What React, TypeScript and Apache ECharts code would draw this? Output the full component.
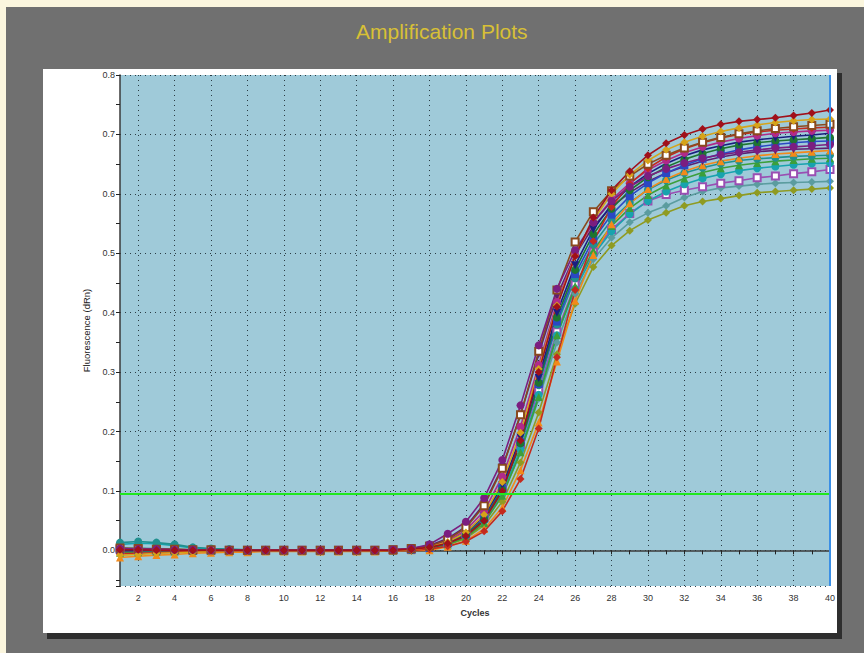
import React, { useEffect, useRef } from 'react';
import * as echarts from 'echarts';

const cycles = ['1','2','3','4','5','6','7','8','9','10','11','12','13','14','15','16','17','18','19','20','21','22','23','24','25','26','27','28','29','30','31','32','33','34','35','36','37','38','39','40'];
const threshold = 0.095;
const yMin = -0.06;
const yMax = 0.8;
const minorTickValues = [-0.05, 0.05, 0.15, 0.25, 0.35, 0.45, 0.55, 0.65, 0.75];

// Fluorescence (dRn) per cycle, one list per well
const oliveDiamond = [0.001,0.001,0.000,0.000,0.000,0.000,0.000,0.000,0.000,-0.001,0.000,0.000,0.000,0.000,0.000,0.000,0.001,0.003,0.009,0.020,0.042,0.082,0.148,0.232,0.330,0.415,0.477,0.513,0.538,0.556,0.568,0.580,0.587,0.592,0.597,0.602,0.604,0.606,0.608,0.610];
const grayTealDiamond = [0.004,0.004,0.003,0.002,0.001,0.001,0.000,0.000,0.000,0.000,0.000,0.000,0.000,0.000,0.000,0.001,0.002,0.004,0.011,0.024,0.048,0.094,0.165,0.255,0.350,0.432,0.490,0.526,0.552,0.568,0.580,0.594,0.604,0.610,0.613,0.616,0.618,0.619,0.620,0.621];
const lilacSquare = [0.002,0.002,0.001,0.001,0.000,0.000,0.000,0.000,0.000,0.000,0.000,0.000,0.000,0.000,0.000,0.001,0.002,0.005,0.013,0.028,0.055,0.104,0.178,0.270,0.368,0.447,0.502,0.540,0.567,0.588,0.599,0.606,0.612,0.618,0.622,0.627,0.630,0.634,0.637,0.641];
const cyanCircle = [0.010,0.012,0.011,0.008,0.004,0.002,0.001,0.001,0.000,0.000,0.000,0.000,0.000,0.000,0.000,0.001,0.002,0.004,0.011,0.025,0.050,0.097,0.170,0.262,0.362,0.440,0.497,0.537,0.566,0.588,0.604,0.616,0.626,0.633,0.639,0.643,0.646,0.649,0.651,0.652];
const greenTri = [-0.004,-0.003,-0.002,-0.002,-0.001,-0.001,-0.001,-0.001,-0.001,-0.001,-0.001,-0.001,-0.001,-0.001,-0.001,0.000,0.001,0.003,0.010,0.022,0.046,0.092,0.165,0.258,0.362,0.445,0.505,0.546,0.576,0.598,0.614,0.626,0.636,0.643,0.648,0.652,0.655,0.657,0.659,0.660];
const tealCircle = [0.013,0.015,0.013,0.010,0.005,0.003,0.002,0.001,0.001,0.000,0.000,0.000,0.000,0.000,0.000,0.001,0.002,0.006,0.014,0.030,0.058,0.108,0.182,0.278,0.380,0.458,0.515,0.556,0.585,0.607,0.623,0.635,0.644,0.651,0.656,0.659,0.661,0.663,0.664,0.665];
const orangeTri = [-0.012,-0.010,-0.008,-0.007,-0.005,-0.004,-0.003,-0.003,-0.002,-0.002,-0.002,-0.002,-0.002,-0.002,-0.002,-0.001,0.000,0.000,0.006,0.016,0.036,0.072,0.135,0.215,0.318,0.420,0.497,0.549,0.584,0.608,0.625,0.638,0.648,0.655,0.660,0.664,0.667,0.669,0.671,0.673];
const plumTri = [0.003,0.002,0.002,0.001,0.001,0.000,0.000,0.000,0.000,0.000,0.000,0.000,0.000,0.000,0.000,0.001,0.003,0.008,0.020,0.040,0.078,0.140,0.228,0.330,0.428,0.497,0.545,0.578,0.602,0.621,0.635,0.646,0.655,0.662,0.667,0.671,0.673,0.675,0.676,0.677];
const blueSquare = [0.000,0.000,0.000,0.000,0.000,0.000,0.000,-0.001,0.000,0.000,0.000,0.000,0.000,0.000,0.000,0.000,0.001,0.004,0.012,0.027,0.054,0.104,0.182,0.280,0.385,0.465,0.523,0.565,0.596,0.618,0.635,0.648,0.659,0.667,0.674,0.679,0.683,0.686,0.688,0.689];
const greenCircle = [0.001,0.001,0.001,0.000,0.000,0.000,0.000,0.000,0.000,0.000,0.000,0.000,0.000,0.000,0.000,0.000,0.001,0.004,0.012,0.026,0.052,0.102,0.180,0.282,0.392,0.472,0.532,0.575,0.606,0.628,0.645,0.658,0.668,0.676,0.682,0.686,0.689,0.691,0.693,0.695];
const navyTri = [0.000,0.000,0.000,0.000,0.000,0.000,0.000,0.000,0.000,0.000,0.000,0.000,0.000,0.000,0.000,0.000,0.002,0.006,0.015,0.030,0.058,0.110,0.190,0.290,0.400,0.480,0.540,0.582,0.612,0.634,0.651,0.664,0.674,0.681,0.687,0.691,0.694,0.697,0.699,0.702];
const magentaCircle = [0.002,0.002,0.001,0.001,0.000,0.000,0.000,0.000,0.000,0.000,0.000,0.000,0.000,0.000,0.000,0.001,0.002,0.006,0.016,0.034,0.066,0.124,0.208,0.312,0.418,0.498,0.552,0.590,0.618,0.640,0.656,0.669,0.679,0.687,0.693,0.698,0.702,0.704,0.706,0.707];
const darkRedDiamond = [-0.006,-0.005,-0.004,-0.003,-0.002,-0.002,-0.001,-0.001,-0.001,-0.001,-0.001,-0.001,-0.001,-0.001,-0.001,0.000,0.000,0.002,0.007,0.015,0.032,0.066,0.120,0.205,0.325,0.438,0.520,0.578,0.617,0.643,0.662,0.676,0.686,0.694,0.700,0.704,0.707,0.709,0.711,0.712];
const brownSquare = [0.004,0.003,0.002,0.002,0.001,0.001,0.000,0.000,0.000,0.000,0.000,0.000,0.000,0.000,0.000,0.001,0.003,0.007,0.018,0.038,0.075,0.138,0.228,0.335,0.438,0.519,0.570,0.605,0.630,0.650,0.665,0.677,0.687,0.695,0.701,0.706,0.710,0.713,0.715,0.717];
const goldDiamond = [-0.008,-0.007,-0.005,-0.004,-0.003,-0.002,-0.002,-0.001,-0.001,-0.001,-0.001,-0.001,-0.001,-0.001,-0.001,0.000,0.001,0.005,0.014,0.030,0.060,0.115,0.198,0.305,0.412,0.496,0.556,0.600,0.632,0.656,0.674,0.687,0.697,0.705,0.711,0.716,0.720,0.723,0.725,0.726];
const purpleLead = [0.003,0.002,0.002,0.001,0.001,0.000,0.000,0.000,0.000,0.000,0.000,0.000,0.000,0.000,0.000,0.001,0.003,0.010,0.028,0.048,0.088,0.152,0.244,0.345,0.440,0.505,0.552,0.588,0.612,0.630,0.642,0.652,0.660,0.666,0.670,0.674,0.677,0.679,0.681,0.683];
const redDiamond = [0.001,0.001,0.000,0.000,0.000,0.000,0.000,0.000,0.000,0.000,0.000,0.000,0.000,0.000,0.000,0.000,0.002,0.005,0.012,0.024,0.050,0.100,0.185,0.300,0.410,0.495,0.560,0.606,0.638,0.665,0.685,0.699,0.709,0.717,0.722,0.725,0.728,0.732,0.736,0.741];

const wells = [
  { name: 'A1', data: oliveDiamond, color: '#8f9b22', symbol: 'diamond', rotate: 0 },
  { name: 'A2', data: grayTealDiamond, color: '#5b9c9f', symbol: 'diamond', rotate: 0 },
  { name: 'A3', data: lilacSquare, color: '#9a4fb3', symbol: 'emptyRect', rotate: 0 },
  { name: 'A4', data: cyanCircle, color: '#18a3ae', symbol: 'circle', rotate: 0 },
  { name: 'A5', data: greenTri, color: '#3b9f3b', symbol: 'triangle', rotate: 0 },
  { name: 'A6', data: tealCircle, color: '#21908f', symbol: 'circle', rotate: 0 },
  { name: 'A7', data: orangeTri, color: '#f28a1a', symbol: 'triangle', rotate: 0 },
  { name: 'A8', data: plumTri, color: '#5c1f70', symbol: 'triangle', rotate: 180 },
  { name: 'A9', data: blueSquare, color: '#2a48c4', symbol: 'rect', rotate: 0 },
  { name: 'A10', data: greenCircle, color: '#1e7530', symbol: 'circle', rotate: 0 },
  { name: 'A11', data: navyTri, color: '#1a1f80', symbol: 'triangle', rotate: 180 },
  { name: 'A12', data: magentaCircle, color: '#b02a8a', symbol: 'circle', rotate: 0 },
  { name: 'A13', data: darkRedDiamond, color: '#c42a1e', symbol: 'diamond', rotate: 0 },
  { name: 'A14', data: brownSquare, color: '#8a4a1e', symbol: 'emptyRect', rotate: 0 },
  { name: 'A15', data: goldDiamond, color: '#d6a319', symbol: 'diamond', rotate: 0 },
  { name: 'A16', data: purpleLead, color: '#7b1e80', symbol: 'circle', rotate: 0 },
  { name: 'A17', data: redDiamond, color: '#a0101a', symbol: 'diamond', rotate: 0 },
];

const evenCycle = (index: number) => index % 2 === 1;

export default function App() {
  const ref = useRef<HTMLDivElement>(null);
  useEffect(() => {
    if (!ref.current) return;
    const chart = echarts.init(ref.current, null, { renderer: 'svg' });
    const series: any[] = wells.map((w, i) => ({
      name: w.name,
      type: 'line',
      data: w.data,
      symbol: w.symbol,
      symbolRotate: w.rotate,
      symbolSize: w.symbol === 'emptyRect' ? 7 : 8,
      showAllSymbol: true,
      lineStyle: { color: w.color, width: 1.6 },
      itemStyle: { color: w.color, borderColor: w.color, borderWidth: w.symbol === 'emptyRect' ? 1.5 : 0 },
      emphasis: { disabled: true },
      z: 3,
      ...(i === wells.length - 1
        ? {
            markLine: {
              silent: true,
              precision: 4,
              symbol: ['none', 'none'],
              label: { show: false },
              lineStyle: { color: '#1fe81f', width: 2, type: 'solid' },
              data: [{ yAxis: threshold }],
              z: 10,
            },
          }
        : {}),
    }));
    chart.setOption({
      animation: false,
      backgroundColor: 'transparent',
      textStyle: { fontFamily: 'Liberation Sans, Arial, sans-serif' },
      title: {
        text: 'Amplification Plots',
        left: 351,
        top: 16,
        textStyle: { color: '#d8c036', fontSize: 21, fontWeight: 'normal', fontFamily: 'Liberation Sans, Arial, sans-serif' },
      },
      grid: {
        left: 120,
        top: 75,
        right: 34,
        bottom: 67,
        show: true,
        backgroundColor: '#9fcad9',
        borderWidth: 0,
      },
      xAxis: {
        type: 'category',
        data: cycles,
        boundaryGap: false,
        name: 'Cycles',
        nameLocation: 'middle',
        nameGap: 22,
        nameTextStyle: { color: '#333', fontSize: 9, fontWeight: 'bold' },
        axisLine: { lineStyle: { color: '#3a3a3a', width: 1.5 } },
        axisTick: { show: true, interval: 0, length: 4, lineStyle: { color: '#222' } },
        axisLabel: { interval: evenCycle, color: '#333', fontSize: 9, margin: 7 },
        splitLine: { show: true, interval: evenCycle, lineStyle: { color: '#2a3c44', type: [1, 4], width: 1 } },
      },
      yAxis: [
        {
          type: 'value',
          min: yMin,
          max: yMax,
          splitNumber: 8,
          name: 'Fluorescence (dRn)',
          nameLocation: 'middle',
          nameGap: 24,
          nameTextStyle: { color: '#222', fontSize: 9.5 },
          axisLine: { show: true, lineStyle: { color: '#3a3a3a', width: 1.5 } },
          axisTick: { show: true, length: 4, lineStyle: { color: '#222' } },
          axisLabel: {
            color: '#333',
            fontSize: 9,
            margin: 5,
            formatter: (v: number) => (v < -0.001 ? '' : v.toFixed(1)),
          },
          splitLine: { show: true, lineStyle: { color: '#2a3c44', type: [1, 4], width: 1 } },
        },
        {
          type: 'value',
          min: yMin,
          max: yMax,
          position: 'left',
          axisLine: { show: false },
          axisLabel: { show: false },
          splitLine: { show: false },
          axisTick: { show: true, length: 4, customValues: minorTickValues, lineStyle: { color: '#222' } },
        },
      ],
      graphic: [
        {
          type: 'line',
          z: 100,
          shape: { x1: 830, y1: 75, x2: 830, y2: 586 },
          style: { stroke: '#3a8fe6', lineWidth: 2 },
        },
      ],
      series,
    });
    return () => chart.dispose();
  }, []);

  return (
    <div style={{ position: 'fixed', left: 0, top: 0, width: 864, height: 653, background: '#fbf6de', overflow: 'hidden' }}>
      <div style={{ position: 'absolute', left: 6, top: 7, width: 858, height: 646, background: '#707070' }} />
      <div style={{ position: 'absolute', left: 47, top: 73, width: 795, height: 566, background: '#2e2e2e' }} />
      <div style={{ position: 'absolute', left: 43, top: 69, width: 794, height: 564, background: '#ffffff' }} />
      <div ref={ref} style={{ position: 'absolute', left: 0, top: 0, width: 864, height: 653 }} />
    </div>
  );
}
